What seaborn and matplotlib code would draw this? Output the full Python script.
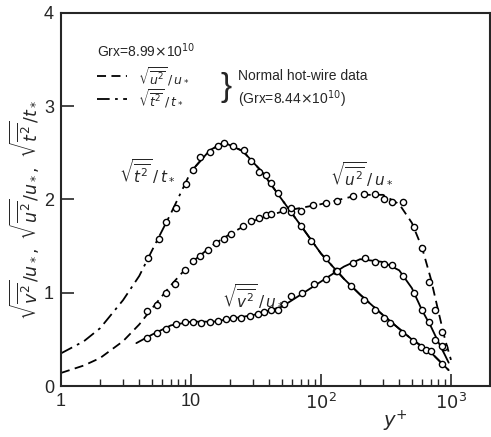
import numpy as np
import pandas as pd
import matplotlib
matplotlib.use("Agg")
import matplotlib.pyplot as plt
import seaborn as sns

# circles (Grx = 8.99e10)
t_x = [4.68, 5.68, 6.47, 7.72, 9.1, 10.3, 11.7, 13.9, 16.1, 18.1, 21.0, 25.4, 29.0, 33.2,
       37.9, 41.4, 46.5, 58.8, 70.1, 83.9, 110, 130, 170, 215, 262, 306, 337, 419, 506,
       588, 642, 700, 860]
t_y = [1.37, 1.58, 1.76, 1.91, 2.17, 2.32, 2.46, 2.51, 2.57, 2.61, 2.57, 2.53, 2.41, 2.30,
       2.26, 2.18, 2.07, 1.87, 1.72, 1.55, 1.37, 1.23, 1.07, 0.92, 0.82, 0.73, 0.68, 0.57,
       0.48, 0.42, 0.39, 0.38, 0.24]

u_x = [4.6, 5.48, 6.4, 7.5, 8.95, 10.4, 11.7, 13.5, 15.7, 18.1, 20.4, 25.1, 29.0, 33.2,
       37.9, 41.4, 50.7, 58.8, 70.1, 86.6, 109, 132, 175, 215, 262, 306, 350, 430, 515,
       595, 680, 760, 860, 885]
u_y = [0.80, 0.87, 1.00, 1.09, 1.24, 1.34, 1.39, 1.46, 1.53, 1.58, 1.63, 1.72, 1.77, 1.80,
       1.83, 1.84, 1.89, 1.91, 1.88, 1.94, 1.96, 1.98, 2.04, 2.06, 2.06, 2.01, 1.97, 1.97,
       1.70, 1.48, 1.12, 0.82, 0.58, 0.42]

v_x = [4.6, 5.48, 6.4, 7.63, 8.95, 10.4, 12.0, 13.9, 16.1, 18.7, 21.0, 24.3, 28.2, 32.6,
       36.7, 41.4, 46.5, 52.0, 58.8, 71.6, 87.6, 110, 132, 177, 220, 262, 306, 354, 427,
       515, 595, 680, 760, 860]
v_y = [0.52, 0.57, 0.61, 0.67, 0.69, 0.69, 0.68, 0.69, 0.70, 0.72, 0.73, 0.73, 0.75, 0.77,
       0.79, 0.81, 0.81, 0.88, 0.96, 1.00, 1.09, 1.15, 1.23, 1.32, 1.37, 1.33, 1.31, 1.30,
       1.18, 1.00, 0.81, 0.69, 0.49, 0.43]

# curves (normal hot-wire data and fits)
tl_x = [1, 1.5, 2, 3, 4, 5, 7, 10, 14, 18, 25, 35, 50, 70, 100, 150, 200, 300, 500, 700, 960]
tl_y = [0.35, 0.48, 0.62, 0.92, 1.18, 1.45, 1.85, 2.30, 2.53, 2.61, 2.52, 2.30, 2.00, 1.72,
        1.42, 1.15, 0.98, 0.76, 0.50, 0.36, 0.17]

ul_x = [1, 1.5, 2, 3, 4, 5, 7, 10, 15, 20, 30, 50, 70, 100, 150, 200, 300, 400, 500, 600,
        700, 800, 900, 1000]
ul_y = [0.14, 0.22, 0.30, 0.48, 0.66, 0.83, 1.08, 1.32, 1.52, 1.63, 1.77, 1.87, 1.91, 1.95,
        2.01, 2.05, 2.05, 1.95, 1.75, 1.48, 1.15, 0.80, 0.50, 0.28]

vl_x = [3.8, 5, 7, 10, 15, 20, 30, 50, 70, 100, 150, 200, 300, 400, 500, 600, 700, 800, 900, 960]
vl_y = [0.46, 0.55, 0.65, 0.69, 0.69, 0.72, 0.76, 0.85, 0.98, 1.12, 1.28, 1.36, 1.33, 1.24,
        1.05, 0.81, 0.64, 0.47, 0.33, 0.25]

sns.set_style("ticks")
plt.rcParams["font.family"] = ["Liberation Sans", "DejaVu Sans"]

fig = plt.figure(figsize=(4.91, 4.37), dpi=100)
ax = fig.add_axes([0.1242, 0.1167, 0.874, 0.8536])

lw = 1.3
dashdot = (0, (7, 3, 1.5, 3))
dashed = (0, (5, 3))
tl = pd.DataFrame({"x": tl_x, "y": tl_y})
sns.lineplot(data=tl, x="x", y="y", ax=ax, color="black", lw=lw, linestyle=dashdot)
sns.lineplot(data=tl[tl.x >= 9], x="x", y="y", ax=ax, color="black", lw=lw)
sns.lineplot(data=pd.DataFrame({"x": ul_x, "y": ul_y}), x="x", y="y", ax=ax,
             color="black", lw=lw, linestyle=dashed)
sns.lineplot(data=pd.DataFrame({"x": vl_x, "y": vl_y}), x="x", y="y", ax=ax, color="black", lw=lw)

for xs, ys in [(t_x, t_y), (u_x, u_y), (v_x, v_y)]:
    sns.scatterplot(x=xs, y=ys, ax=ax, marker="o", s=20, color="white",
                    edgecolor="black", linewidth=1.0, zorder=3)

ax.set_xscale("log")
ax.set_xlim(1, 2000)
ax.set_ylim(0, 4)
ax.set_xticks([1, 10, 100, 1000])
ax.set_xticklabels(["1", "10", r"$10^2$", r"$10^3$"])
ax.set_yticks([0, 1, 2, 3, 4])
ax.tick_params(axis="both", which="major", direction="in", length=9, width=1.2,
               labelsize=13, pad=5)
ax.tick_params(axis="x", which="minor", direction="in", length=5, width=1.0)
for s in ax.spines.values():
    s.set_linewidth(1.5)
ax.set_xlabel("")
ax.set_ylabel("")

fig.text(0.05, 0.52, r"$\sqrt{\overline{v^2}}/u_*,\ \sqrt{\overline{u^2}}/u_*,\ \sqrt{\overline{t^2}}/t_*$",
         rotation=90, ha="center", va="center", fontsize=12.5)
fig.text(0.805, 0.035, r"$y^{+}$", ha="center", va="center", fontsize=14)

# legend block
fs = 10
ax.text(0.084, 0.898, r"Grx=8.99$\times$10$^{10}$", transform=ax.transAxes, fontsize=fs, va="center")
ax.plot([0.084, 0.155], [0.830, 0.830], transform=ax.transAxes, color="black", lw=lw,
        linestyle=dashed)
ax.plot([0.084, 0.155], [0.770, 0.770], transform=ax.transAxes, color="black", lw=lw,
        linestyle=dashdot)
ax.text(0.179, 0.830, r"$\sqrt{\overline{u^2}}\,/\,u_*$", transform=ax.transAxes, fontsize=9, va="center")
ax.text(0.179, 0.770, r"$\sqrt{\overline{t^2}}\,/\,t_*$", transform=ax.transAxes, fontsize=9, va="center")
ax.text(0.385, 0.80, "}", transform=ax.transAxes, fontsize=24, va="center", ha="center")
ax.text(0.413, 0.830, "Normal hot-wire data", transform=ax.transAxes, fontsize=fs, va="center")
ax.text(0.413, 0.770, r"(Grx=8.44$\times$10$^{10}$)", transform=ax.transAxes, fontsize=fs, va="center")

# curve labels
ax.text(4.6, 2.30, r"$\sqrt{\overline{t^2}}\,/\,t_*$", fontsize=11, ha="center", va="center")
ax.text(204, 2.27, r"$\sqrt{\overline{u^2}}\,/\,u_*$", fontsize=11, ha="center", va="center")
ax.text(30, 0.96, r"$\sqrt{\overline{v^2}}\,/\,u_*$", fontsize=11, ha="center", va="center")

fig.savefig("out.png", dpi=100)
